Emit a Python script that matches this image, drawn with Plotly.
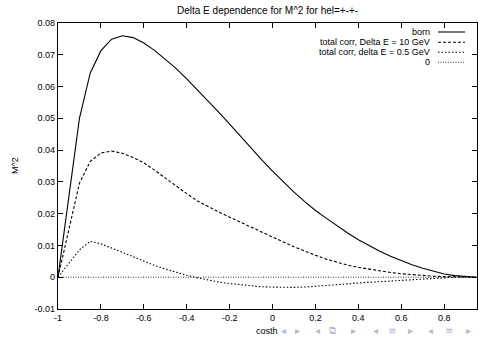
import plotly.graph_objects as go

costh = [-1.0, -0.9, -0.85, -0.8, -0.75, -0.7, -0.65, -0.6, -0.55, -0.5, -0.45, -0.4,
         -0.35, -0.3, -0.25, -0.2, -0.15, -0.1, -0.05, 0.0, 0.05, 0.1, 0.15, 0.2, 0.25,
         0.3, 0.35, 0.4, 0.45, 0.5, 0.55, 0.6, 0.65, 0.7, 0.75, 0.8, 0.85, 0.9, 0.95]

born = [0.0, 0.0500, 0.0642, 0.0713, 0.0749, 0.0760, 0.0754, 0.0737, 0.0714, 0.0687,
        0.0657, 0.0624, 0.0590, 0.0555, 0.0519, 0.0482, 0.0444, 0.0406, 0.0369, 0.0334,
        0.0300, 0.0268, 0.0238, 0.0210, 0.0186, 0.0162, 0.0139, 0.0118, 0.0099, 0.0082,
        0.0066, 0.0052, 0.0039, 0.0028, 0.0018, 0.0010, 0.0005, 0.0002, 0.0]

corr_10 = [0.0, 0.0296, 0.0364, 0.0391, 0.0397, 0.0390, 0.0377, 0.0360, 0.0337, 0.0312,
           0.0287, 0.0263, 0.0240, 0.0222, 0.0205, 0.0189, 0.0173, 0.0158, 0.0142, 0.0126,
           0.0111, 0.0096, 0.0082, 0.0069, 0.0057, 0.0047, 0.0038, 0.0031, 0.0025, 0.0020,
           0.0015, 0.0011, 0.0008, 0.0005, 0.0003, 0.0002, 0.0001, 0.0, 0.0]

corr_05 = [0.0, 0.0086, 0.0113, 0.0105, 0.0092, 0.0078, 0.0064, 0.0049, 0.0037, 0.0026,
           0.0015, 0.0006, -0.0002, -0.0009, -0.0015, -0.0020, -0.0024, -0.0028, -0.0030,
           -0.0031, -0.0032, -0.0032, -0.0031, -0.0029, -0.0027, -0.0024, -0.0021, -0.0018,
           -0.0016, -0.0013, -0.0010, -0.0008, -0.0006, -0.0004, -0.0002, -0.0001, 0.0, 0.0, 0.0]

zero = [0.0] * len(costh)

x_ticks = [-1, -0.8, -0.6, -0.4, -0.2, 0, 0.2, 0.4, 0.6, 0.8]
x_ticktext = ["-1", "-0.8", "-0.6", "-0.4", "-0.2", "0", "0.2", "0.4", "0.6", "0.8"]
y_ticks = [-0.01, 0, 0.01, 0.02, 0.03, 0.04, 0.05, 0.06, 0.07, 0.08]
y_ticktext = ["-0.01", "0", "0.01", "0.02", "0.03", "0.04", "0.05", "0.06", "0.07", "0.08"]

legend_labels = ["born", "total corr, Delta E = 10 GeV", "total corr, delta E = 0.5 GeV", "0"]
series = [born, corr_10, corr_05, zero]
dashes = ["solid", "3px,2px", "1.5px,2px", "1px,1.5px"]
widths = [1.1, 1.1, 1.1, 0.8]

nav_symbols = ["\u25c2", "\u25b8", "\u25c2", "\u29c9", "\u25b8", "\u25c2", "\u2261", "\u25b8",
               "\u25c2", "\u2261", "\u25b8"]
nav_px = [283, 297, 317, 332, 353, 375, 392, 410, 430, 449, 468]

W, H = 479, 337
ML, MR, MT, MB = 58, 2, 23, 28
pw, ph = W - ML - MR, H - MT - MB

fig = go.Figure()
for s, d, w, name in zip(series, dashes, widths, legend_labels):
    fig.add_trace(go.Scatter(x=costh, y=s, mode="lines", name=name,
                             line=dict(color="black", width=w, dash=d),
                             showlegend=False, hoverinfo="skip"))

font = dict(family="Liberation Sans, Arial, sans-serif", size=9, color="black")


def px_x(p):
    return (p - ML) / pw


def px_y(p):
    return (H - MB - p) / ph


annotations = []
shapes = []
row_y = [32, 42.3, 52.3, 62.3]
for lab, d, w, yy in zip(legend_labels, dashes, widths, row_y):
    yp = px_y(yy)
    annotations.append(dict(x=px_x(432), y=yp, xref="paper", yref="paper",
                            text=lab, showarrow=False, xanchor="right", yanchor="middle",
                            font=font))
    shapes.append(dict(type="line", xref="paper", yref="paper",
                       x0=px_x(438), x1=px_x(465), y0=yp, y1=yp,
                       line=dict(color="black", width=w, dash=d)))

annotations.append(dict(x=px_x(267.5), y=px_y(10), xref="paper", yref="paper",
                        text="Delta E dependence for M^2 for hel=+-+-", showarrow=False,
                        xanchor="center", yanchor="middle",
                        font=dict(family=font["family"], size=10, color="black")))
annotations.append(dict(x=px_x(15), y=px_y(166), xref="paper", yref="paper",
                        text="M^2", showarrow=False, textangle=-90,
                        xanchor="center", yanchor="middle", font=font))
for sym, xp in zip(nav_symbols, nav_px):
    annotations.append(dict(x=px_x(xp), y=px_y(330.5), xref="paper", yref="paper",
                            text=sym, showarrow=False, xanchor="center", yanchor="middle",
                            borderpad=0,
                            font=dict(family="DejaVu Sans", size=10, color="#b4b8d6")))
annotations.append(dict(x=px_x(267), y=px_y(331), xref="paper", yref="paper",
                        text="costh", showarrow=False, xanchor="center", yanchor="middle",
                        font=font))

axis_common = dict(showgrid=False, zeroline=False, showline=True, linecolor="black",
                   linewidth=1.2, mirror="ticks", ticks="inside", ticklen=5,
                   tickcolor="black", tickwidth=1, tickfont=font)

fig.update_layout(
    width=W, height=H,
    margin=dict(l=ML, r=MR, t=MT, b=MB),
    paper_bgcolor="white", plot_bgcolor="white",
    xaxis=dict(range=[-1, 0.953], tickvals=x_ticks, ticktext=x_ticktext, **axis_common),
    yaxis=dict(range=[-0.01, 0.08], tickvals=y_ticks, ticktext=y_ticktext, **axis_common),
    annotations=annotations, shapes=shapes,
)

fig.write_html("out.html", config={"displayModeBar": False},
               post_script="document.body.style.margin='0';document.body.style.overflow='hidden';")
